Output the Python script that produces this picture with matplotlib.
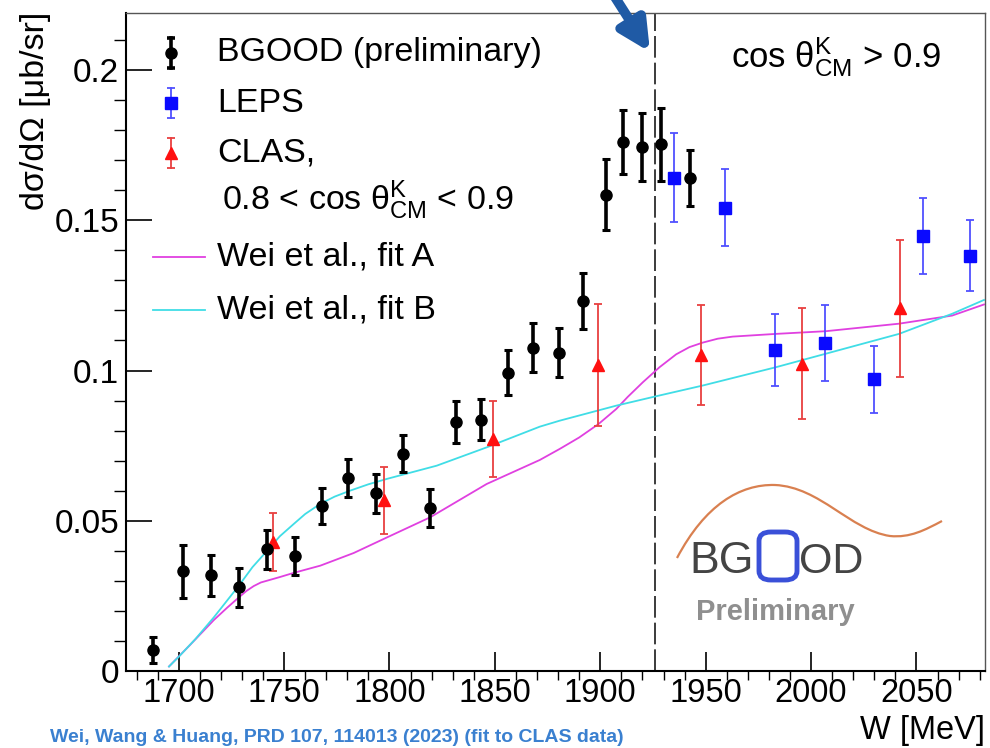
import matplotlib.pyplot as plt
import numpy as np
from matplotlib.path import Path
from matplotlib.patches import PathPatch, FancyBboxPatch

plt.rcParams['font.family'] = ['Liberation Sans', 'DejaVu Sans']
plt.rcParams['mathtext.fontset'] = 'custom'
plt.rcParams['mathtext.rm'] = 'Liberation Sans'
plt.rcParams['mathtext.it'] = 'Liberation Sans:italic'

# BGOOD preliminary, cos theta > 0.9
bgood_w = [1688, 1702, 1715.5, 1728.5, 1742, 1755, 1768, 1780.5, 1793.5, 1806.5, 1819,
           1831.5, 1843.5, 1856, 1868, 1880.5, 1892, 1902.5, 1911, 1920, 1929, 1942.5]
bgood_xs = [0.0069, 0.0331, 0.0318, 0.0278, 0.0404, 0.0382, 0.0549, 0.0641, 0.0591, 0.0723, 0.0542,
            0.0829, 0.0836, 0.0992, 0.1076, 0.1060, 0.1231, 0.1586, 0.1760, 0.1744, 0.1753, 0.1641]
bgood_err = [0.0044, 0.0089, 0.0068, 0.0065, 0.0064, 0.0062, 0.0060, 0.0064, 0.0064, 0.0062, 0.0063,
             0.0069, 0.0069, 0.0075, 0.0082, 0.0082, 0.0094, 0.0118, 0.0107, 0.0114, 0.0120, 0.0093]

# LEPS
leps_w = [1935, 1959, 1983, 2006.5, 2030, 2053, 2075.5]
leps_xs = [0.1642, 0.1542, 0.1069, 0.1091, 0.0971, 0.1448, 0.1383]
leps_err = [0.0148, 0.0128, 0.0120, 0.0127, 0.0112, 0.0126, 0.0117]

# CLAS, 0.8 < cos theta < 0.9
clas_w = [1744.5, 1797.5, 1849, 1899, 1948, 1995.5, 2042]
clas_xs = [0.0430, 0.0567, 0.0772, 0.1017, 0.1052, 0.1022, 0.1208]
clas_err = [0.0097, 0.0110, 0.0128, 0.0203, 0.0166, 0.0185, 0.0228]

# Wei et al. model curves
fitA_w = [1695.4, 1705, 1716.7, 1723, 1728.5, 1732, 1735.6, 1739, 1743.5, 1748, 1754.6, 1767.2,
          1783, 1798.8, 1819.3, 1846.1, 1871.3, 1880.8, 1890, 1899.2, 1907.6, 1913, 1920.2, 1928.1,
          1936.0, 1942.3, 1948.6, 1955.7, 1962.8, 1983.3, 2007.0, 2041.7, 2066.9, 2082]
fitA_xs = [0.0014, 0.0083, 0.0169, 0.0210, 0.0244, 0.0265, 0.0282, 0.0294, 0.0303, 0.0312, 0.0326,
           0.0350, 0.0392, 0.0444, 0.0511, 0.0622, 0.0702, 0.0739, 0.0777, 0.0822, 0.0872, 0.0912,
           0.0961, 0.1011, 0.1054, 0.1078, 0.1093, 0.1106, 0.1113, 0.1122, 0.1131, 0.1156,
           0.1183, 0.1220]
fitB_w = [1695.4, 1700.1, 1708, 1716.7, 1728.5, 1735, 1742, 1748, 1754.6, 1760, 1767.2, 1774,
          1781.4, 1790, 1798.8, 1822.4, 1846.1, 1871.3, 1880.8, 1907.6, 1925.7, 1948.6, 1983.3,
          2007.0, 2041.7, 2066.9, 2082]
fitB_xs = [0.0014, 0.0047, 0.0106, 0.0178, 0.0283, 0.0345, 0.0400, 0.0448, 0.0489, 0.0522, 0.0556,
           0.0580, 0.0600, 0.0621, 0.0639, 0.0683, 0.0744, 0.0813, 0.0833, 0.0883, 0.0913, 0.0950,
           0.1011, 0.1056, 0.1122, 0.1189, 0.1235]

w_threshold = 1926

W, H = 990, 748
fig = plt.figure(figsize=(9.9, 7.48), dpi=100)
ax = fig.add_axes([126 / W, 1 - 670.7 / H, 859 / W, 658 / H])


def fxy(px, py):
    # pixel position -> figure fraction
    return px / W, 1 - py / H


ax.plot(fitA_w, fitA_xs, color='#e040e0', lw=1.3, zorder=2)
ax.plot(fitB_w, fitB_xs, color='#40dde6', lw=1.3, zorder=2)

ax.errorbar(clas_w, clas_xs, yerr=clas_err, fmt='^', color='#ff1010', ecolor='#e84040',
            ms=8, elinewidth=1.3, capsize=3, capthick=1.3, zorder=3)
ax.errorbar(leps_w, leps_xs, yerr=leps_err, fmt='s', color='#0a0aff', ecolor='#5050ff',
            ms=8, elinewidth=1.3, capsize=3, capthick=1.3, zorder=3)
ax.errorbar(bgood_w, bgood_xs, yerr=bgood_err, fmt='o', color='black',
            ms=8, elinewidth=2.6, capsize=3, capthick=2.2, zorder=4)

ax.axvline(w_threshold, color='#1a1a1a', lw=1.2, dashes=(13, 3), zorder=1)

ax.set_xlim(1675, 2082.5)
ax.set_ylim(0, 0.2192)
ax.set_xticks(np.arange(1700, 2051, 50))
ax.set_xticks(np.arange(1680, 2081, 10), minor=True)
ax.set_yticks([0, 0.05, 0.1, 0.15, 0.2])
ax.set_yticklabels(['0', '0.05', '0.1', '0.15', '0.2'])
ax.set_yticks(np.arange(0, 0.2191, 0.01), minor=True)
ax.tick_params(axis='both', direction='in', labelsize=24, top=False, right=False, width=1.2)
ax.tick_params(axis='x', which='major', length=14, pad=5, labelsize=23.5)
ax.tick_params(axis='x', which='minor', length=6.5, width=1.0)
ax.tick_params(axis='y', which='major', length=19, pad=5)
ax.tick_params(axis='y', which='minor', length=9, width=1.0)
for side in ['left', 'bottom']:
    ax.spines[side].set_linewidth(1.5)
for side in ['top', 'right']:
    ax.spines[side].set_linewidth(1.0)
    ax.spines[side].set_color('#555555')

# axis titles, ROOT style
fig.text(*fxy(36, 12), 'dσ/dΩ [μb/sr]', rotation=90, ha='center', va='top', fontsize=24.5)
fig.text(*fxy(985, 739), 'W [MeV]', ha='right', va='baseline', fontsize=23.5)

# legend, drawn by hand
legend_rows = [('BGOOD (preliminary)', 'black', 'o', 2.6, 53, 15),
               ('LEPS', '#5050ff', 's', 1.3, 103, 15),
               ('CLAS,', '#e84040', '^', 1.3, 153, 15)]
for label, col, mk, lw, py, half in legend_rows:
    x0, y0 = fxy(171, py)
    _, y1 = fxy(171, py - half)
    _, y2 = fxy(171, py + half)
    fig.add_artist(plt.Line2D([x0, x0], [y1, y2], color=col, lw=lw))
    fig.add_artist(plt.Line2D([x0, x0], [y1, y2], color=col, lw=0, marker='_', ms=6,
                              markeredgewidth=lw))
    mcol = {'o': 'black', 's': '#0a0aff', '^': '#ff1010'}[mk]
    fig.add_artist(plt.Line2D([x0], [y0], color=mcol, marker=mk, ms=8, lw=0))
    fig.text(*fxy(217, py), label, ha='left', va='center', fontsize=24.5)
fig.text(*fxy(222, 200), r'0.8 < cos θ$^{\mathrm{K}}_{\mathrm{CM}}$ < 0.9',
         ha='left', va='center', fontsize=24.5)
for label, col, py in [('Wei et al., fit A', '#e040e0', 257), ('Wei et al., fit B', '#40dde6', 310)]:
    xa, ya = fxy(153, py)
    xb, _ = fxy(205, py)
    fig.add_artist(plt.Line2D([xa, xb], [ya, ya], color=col, lw=1.3))
    fig.text(*fxy(217, py), label, ha='left', va='center', fontsize=24.5)

fig.text(*fxy(836, 57), r'cos θ$^{\mathrm{K}}_{\mathrm{CM}}$ > 0.9', ha='center', va='center',
         fontsize=25)

# arrow pointing at the threshold line
ax.annotate('', xy=fxy(650, 52), xytext=fxy(604, -20), xycoords='figure fraction',
            textcoords='figure fraction',
            arrowprops=dict(arrowstyle='-|>', lw=7, color='#1f5aa5', mutation_scale=45,
                            shrinkA=0, shrinkB=0))

# BGOOD logo
arc = [(677, 558), (705, 505), (740, 484), (775, 485), (820, 487), (850, 530), (890, 536),
       (910, 538), (925, 530), (942, 521)]
codes = [Path.MOVETO] + [Path.CURVE4] * 9
arc_path = Path([fxy(px, py) for px, py in arc], codes)
fig.add_artist(PathPatch(arc_path, transform=fig.transFigure, fill=False,
                         edgecolor='#d98050', lw=1.6))
fig.text(*fxy(689, 573), 'BG', ha='left', va='baseline', fontsize=32, color='#444444')
bx, by = fxy(759, 580)
bw = 38 / W
bh = 48 / H
fig.add_artist(FancyBboxPatch((bx, by), bw, bh, boxstyle='round,pad=0,rounding_size=0.012',
                              transform=fig.transFigure, fill=False, edgecolor='#3a50d8', lw=3.5))
fig.text(*fxy(799, 573), 'OD', ha='left', va='baseline', fontsize=31, color='#444444')
fig.text(*fxy(775, 620), 'Preliminary', ha='center', va='baseline', fontsize=21,
         fontweight='bold', color='#8f8f8f')

# reference line under the plot
fig.text(*fxy(50, 746), 'Wei, Wang & Huang, PRD 107, 114013 (2023) (fit to CLAS data)',
         ha='left', va='bottom', fontsize=14, color='#3a80d0', fontweight='bold')

fig.savefig('out.png', dpi=100)
